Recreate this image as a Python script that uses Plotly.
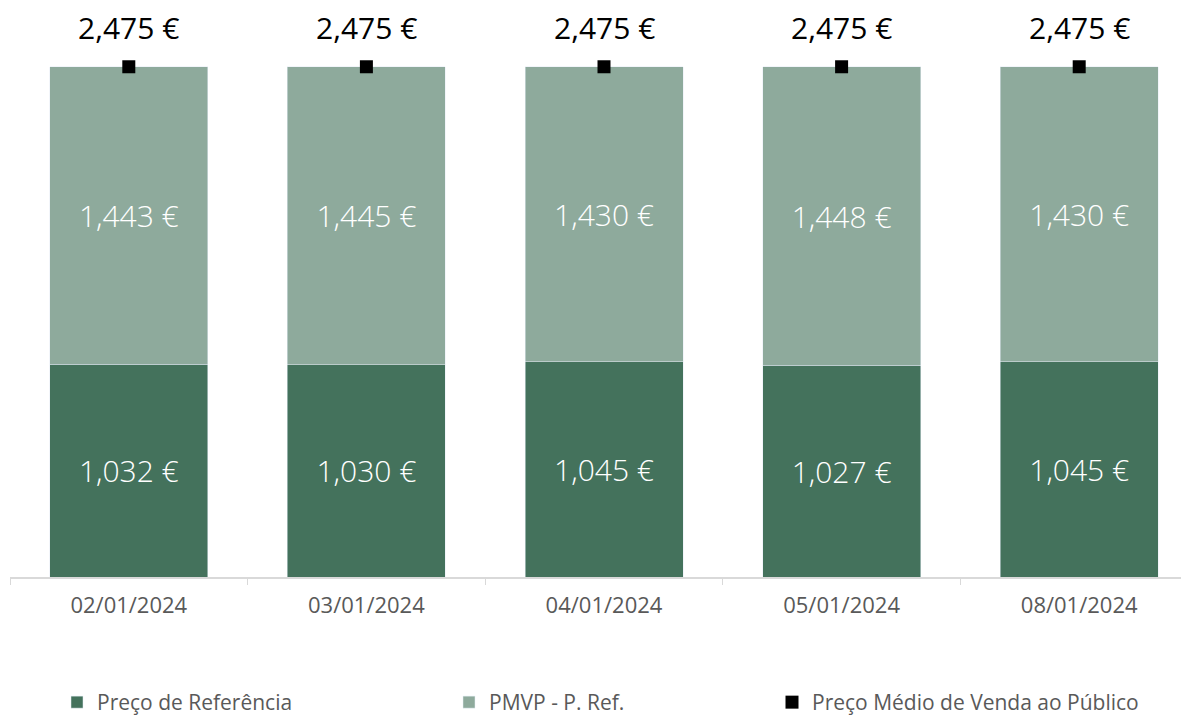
import plotly.graph_objects as go

datas = ['02/01/2024', '03/01/2024', '04/01/2024', '05/01/2024', '08/01/2024']
preco_referencia = [1.032, 1.030, 1.045, 1.027, 1.045]
pmvp_menos_ref = [1.443, 1.445, 1.430, 1.448, 1.430]
pmvp = [2.475, 2.475, 2.475, 2.475, 2.475]

COR_ESCURA = '#44725C'
COR_CLARA = '#8EAA9C'
FONTE = 'Open Sans'

fig = go.Figure()

fig.add_trace(go.Bar(
    name='Preço de Referência',
    x=datas, y=preco_referencia,
    marker_color=COR_ESCURA,
    texttemplate='%{y:.3f} €',
    textposition='inside', insidetextanchor='middle',
    textfont=dict(color='white', size=30, family=FONTE, weight=300),
    legend='legend',
))
fig.add_trace(go.Bar(
    name='PMVP - P. Ref.',
    x=datas, y=pmvp_menos_ref,
    marker_color=COR_CLARA,
    texttemplate='%{y:.3f} €',
    textposition='inside', insidetextanchor='middle',
    textfont=dict(color='white', size=30, family=FONTE, weight=300),
    legend='legend2',
))
fig.add_trace(go.Scatter(
    name='Preço Médio de Venda ao Público',
    x=datas, y=pmvp,
    mode='markers',
    marker=dict(symbol='square', size=13, color='black'),
    legend='legend3',
))

# rótulos do total por cima das colunas
for d, v in zip(datas, pmvp):
    fig.add_annotation(
        x=d, y=v, text=f'{v:.3f} €'.replace('.', ','),
        showarrow=False, yshift=39, borderpad=0,
        font=dict(size=30, color='black', family=FONTE, weight=500),
    )

legenda = dict(orientation='h', yanchor='middle', y=-0.2207, xanchor='left',
               font=dict(size=21, color='#595959', family=FONTE),
               bgcolor='rgba(0,0,0,0)', itemwidth=30)

# a página tem 8px de margem no body; o eixo continua para lá da borda direita
fig.update_layout(
    barmode='stack',
    bargap=0.335,
    separators=',.',
    width=1200, height=715,
    paper_bgcolor='white', plot_bgcolor='white',
    margin=dict(t=0, b=144, l=2, r=10),
    font=dict(family=FONTE),
    showlegend=True,
    legend=dict(legenda, x=47 / 1188),
    legend2=dict(legenda, x=439 / 1188),
    legend3=dict(legenda, x=762 / 1188),
    xaxis=dict(
        showline=True, linecolor='#d9d9d9', linewidth=2,
        ticks='outside', tickson='boundaries', tickcolor='#d9d9d9', ticklen=6,
        tickfont=dict(size=22, color='#595959', family=FONTE),
        ticklabelstandoff=8,
        showgrid=False,
    ),
    yaxis=dict(range=[0, 2.76], visible=False, showgrid=False, zeroline=False),
)

fig.write_html('out.html')
